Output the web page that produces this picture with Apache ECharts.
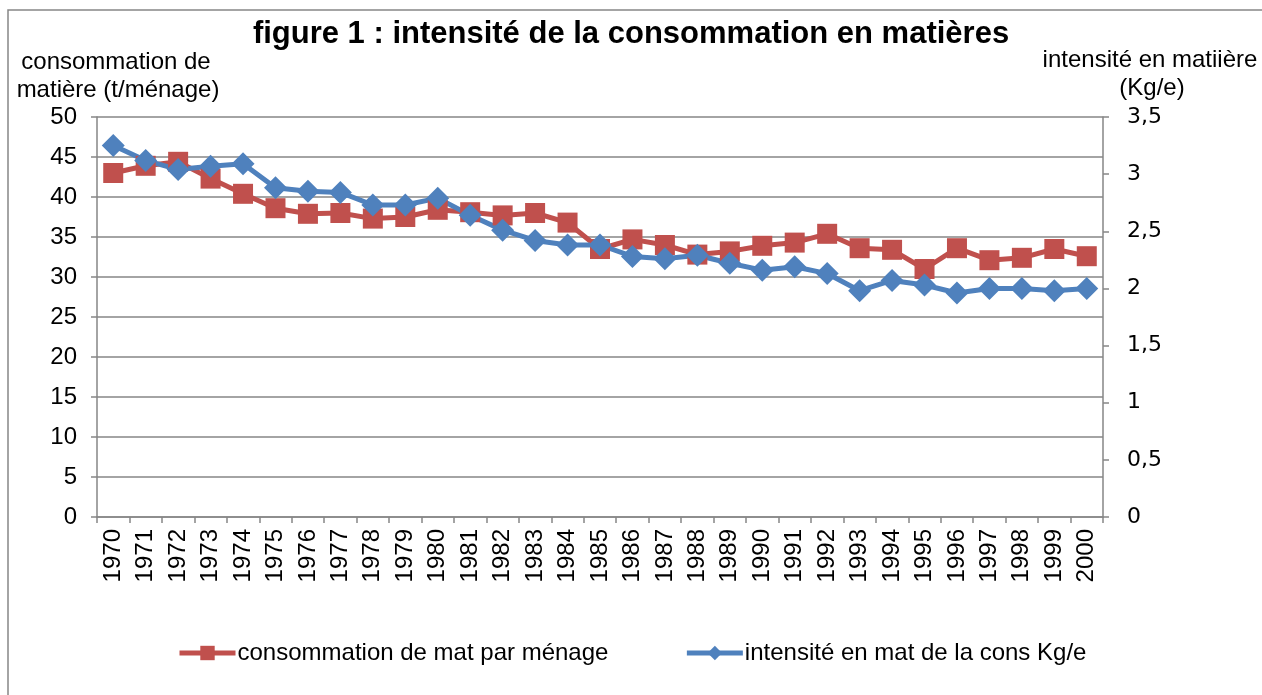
<!DOCTYPE html>
<html>
<head>
<meta charset="utf-8">
<script src="https://cdn.jsdelivr.net/npm/echarts@6/dist/echarts.min.js"></script>
<style>
  html, body { margin: 0; padding: 0; background: #ffffff; }
  #chart { width: 1262px; height: 695px; }
</style>
</head>
<body>
<div id="chart"></div>
<script>
// années
const years = ['1970','1971','1972','1973','1974','1975','1976','1977','1978','1979',
  '1980','1981','1982','1983','1984','1985','1986','1987','1988','1989',
  '1990','1991','1992','1993','1994','1995','1996','1997','1998','1999','2000']

// consommation de mat par ménage (t/ménage) - axe gauche
const consommation = [43.0, 43.9, 44.4, 42.3, 40.4, 38.6, 37.9, 38.0, 37.3, 37.5,
  38.4, 38.1, 37.7, 38.0, 36.8, 33.5, 34.7, 34.0, 32.8, 33.2,
  33.9, 34.3, 35.4, 33.6, 33.4, 31.0, 33.6, 32.1, 32.4, 33.5, 32.6]

// intensité en mat de la cons (Kg/e) - axe droit
const intensite = [3.25, 3.12, 3.04, 3.07, 3.09, 2.88, 2.85, 2.84, 2.73, 2.73,
  2.79, 2.64, 2.51, 2.42, 2.38, 2.38, 2.28, 2.26, 2.29, 2.22,
  2.16, 2.19, 2.13, 1.98, 2.07, 2.03, 1.96, 2.00, 2.00, 1.98, 2.00]

const font = '"Liberation Sans", Arial, sans-serif'
const grey = '#868686'

const chart = echarts.init(document.getElementById('chart'))
chart.setOption({
  animation: false,
  textStyle: { fontFamily: font },
  title: {
    text: 'figure 1 : intensité de la consommation en matières',
    left: 'center',
    top: 14,
    textStyle: { fontSize: 31, fontWeight: 'bold', color: '#000', fontFamily: font }
  },
  graphic: [
    {
      type: 'rect',
      shape: { x: 8, y: 10, width: 1262, height: 700 },
      style: { fill: 'none', stroke: grey, lineWidth: 1.5 },
      silent: true
    },
    {
      type: 'text', x: 116, y: 62,
      style: { text: 'consommation de', fill: '#000', font: '24px ' + font, align: 'center', verticalAlign: 'middle' }
    },
    {
      type: 'text', x: 118, y: 90,
      style: { text: 'matière (t/ménage)', fill: '#000', font: '24px ' + font, align: 'center', verticalAlign: 'middle' }
    },
    {
      type: 'text', x: 1150, y: 60,
      style: { text: 'intensité en matiière', fill: '#000', font: '24px ' + font, align: 'center', verticalAlign: 'middle' }
    },
    {
      type: 'text', x: 1152, y: 88,
      style: { text: '(Kg/e)', fill: '#000', font: '24px ' + font, align: 'center', verticalAlign: 'middle' }
    }
  ],
  legend: {
    left: 177,
    top: 641,
    padding: 0,
    itemWidth: 56,
    itemHeight: 18,
    itemGap: 76,
    lineStyle: { width: 5 },
    textStyle: { fontSize: 24, color: '#000', fontFamily: font, padding: [0, 0, 0, -3] },
    data: ['consommation de mat par ménage', 'intensité en mat de la cons Kg/e']
  },
  grid: { left: 97, right: 159, top: 117, bottom: 178 },
  xAxis: {
    type: 'category',
    data: years,
    boundaryGap: true,
    axisLine: { lineStyle: { color: grey, width: 1.5 } },
    axisTick: { show: true, length: 6, lineStyle: { color: grey, width: 1.5 } },
    axisLabel: { rotate: 90, interval: 0, margin: 12, fontSize: 24, color: '#000', fontFamily: font }
  },
  yAxis: [
    {
      type: 'value',
      min: 0, max: 50, interval: 5,
      axisLine: { show: true, lineStyle: { color: grey, width: 1.5 } },
      axisTick: { show: true, length: 6, lineStyle: { color: grey, width: 1.5 } },
      axisLabel: { fontSize: 24, color: '#000', margin: 20, fontFamily: font },
      splitLine: { lineStyle: { color: grey, width: 1.5 } }
    },
    {
      type: 'value',
      min: 0, max: 3.5, interval: 0.5,
      position: 'right',
      axisLine: { show: true, lineStyle: { color: grey, width: 1.5 } },
      axisTick: { show: true, length: 6, lineStyle: { color: grey, width: 1.5 } },
      axisLabel: {
        fontSize: 22, color: '#000', margin: 24, fontFamily: '"DejaVu Sans", sans-serif',
        formatter: v => String(v).replace('.', ',')
      },
      splitLine: { show: false }
    }
  ],
  series: [
    {
      name: 'consommation de mat par ménage',
      type: 'line',
      yAxisIndex: 0,
      data: consommation,
      symbol: 'rect',
      symbolSize: 20,
      lineStyle: { color: '#C0504D', width: 5 },
      itemStyle: { color: '#C0504D' }
    },
    {
      name: 'intensité en mat de la cons Kg/e',
      type: 'line',
      yAxisIndex: 1,
      data: intensite,
      symbol: 'diamond',
      symbolSize: 23,
      lineStyle: { color: '#4F81BD', width: 5 },
      itemStyle: { color: '#4F81BD' }
    }
  ]
})
</script>
</body>
</html>
